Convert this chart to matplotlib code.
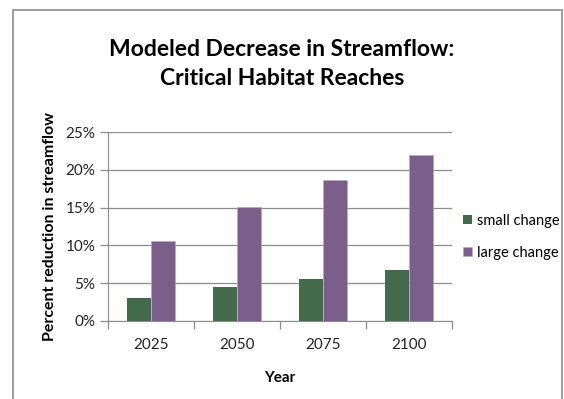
import numpy as np
import matplotlib.pyplot as plt
from matplotlib.patches import Rectangle

plt.rcParams['font.family'] = ['Lato', 'DejaVu Sans']

years = ['2025', '2050', '2075', '2100']
small_change = [3.1, 4.5, 5.6, 6.7]
large_change = [10.6, 15.1, 18.7, 21.9]
yticks = [0, 5, 10, 15, 20, 25]

green = '#436a4b'
purple = '#7b5f8b'
grid_c = '#8c8c8c'

fig = plt.figure(figsize=(5.64, 3.99), dpi=100)
fig.patches.append(Rectangle((13 / 564, -0.05), (562 - 13) / 564, 1 - 10 / 399 + 0.05,
                             transform=fig.transFigure, fill=False,
                             edgecolor='#8c8c8c', linewidth=1.2))

ax = fig.add_axes([108 / 564, 1 - 321 / 399, (452 - 108) / 564, (321 - 132) / 399])
x = np.arange(len(years))
w = 0.28
ax.bar(x - w / 2, small_change, w, color=green, label='small change', zorder=3)
ax.bar(x + w / 2, large_change, w, color=purple, label='large change', zorder=3,
       edgecolor='#b9a6c6', linewidth=0.4)

ax.set_xlim(-0.5, 3.5)
ax.set_ylim(0, 25)
ax.set_yticks(yticks)
ax.set_yticklabels([f'{v}%' for v in yticks], fontsize=11, color='#222222')
ax.yaxis.grid(True, color=grid_c, linewidth=0.9, zorder=0)
ax.set_xticks(x)
ax.set_xticklabels(years, fontsize=11, color='#222222')
ax.set_xticks(np.arange(-0.5, 4, 1), minor=True)
ax.tick_params(axis='x', which='major', length=0, pad=12)
ax.tick_params(axis='x', which='minor', length=6, color=grid_c, width=0.9)
ax.tick_params(axis='y', length=6, color=grid_c, width=0.9, pad=3)
for s in ['top', 'right']:
    ax.spines[s].set_visible(False)
ax.spines['left'].set_color(grid_c)
ax.spines['bottom'].set_color(grid_c)

ax.set_ylabel('Percent reduction in streamflow', fontsize=11.5, fontweight='bold', labelpad=6)
ax.set_xlabel('Year', fontsize=11, fontweight='bold', labelpad=14)

fig.text(0.5, 1 - 64 / 399, 'Modeled Decrease in Streamflow:\nCritical Habitat Reaches',
         ha='center', va='center', fontsize=16.5, fontweight='bold', linespacing=1.42)

ax.legend(loc='center left', bbox_to_anchor=(1.015, 0.445), frameon=False, fontsize=10.5,
          handlelength=0.6, handleheight=0.6, handletextpad=0.35, labelspacing=1.25,
          borderaxespad=0)

fig.savefig('out.png', dpi=100)
